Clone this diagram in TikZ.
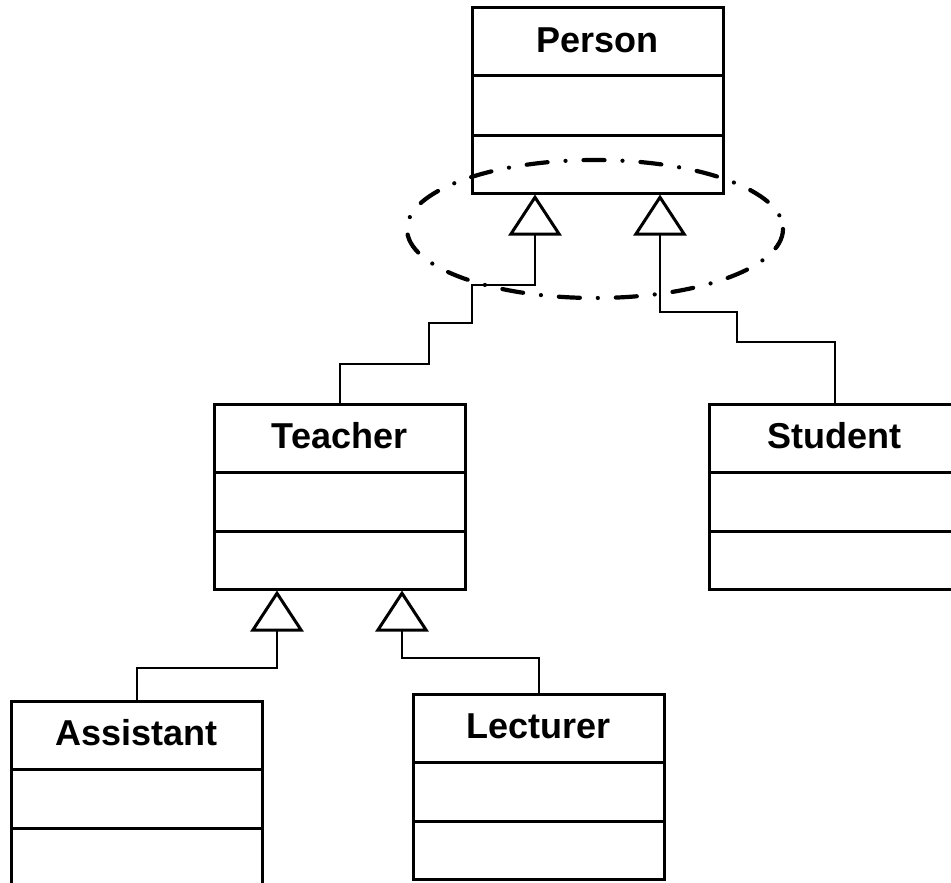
\documentclass[tikz,border=0pt]{standalone}
\usepackage{fontspec}
\setmainfont{Liberation Sans}
\usetikzlibrary{calc,arrows.meta}
\tikzset{
  umlbox/.style={draw, line width=3pt, minimum width=251pt, minimum height=185pt, inner sep=0pt, anchor=north west},
  boxline/.style={line width=3pt},
  lbl/.style={font=\fontsize{36}{40}\selectfont\bfseries, anchor=base, inner sep=0pt},
  inh/.style={line width=2pt, -{Triangle[open, length=41pt, width=53pt, line width=3pt]}},
  setline/.style={line width=4.2pt, line cap=round, dash pattern=on 21pt off 18pt on 0pt off 18pt}
}
\newcommand{\umlclass}[4]{%
  \node[umlbox] (#1) at (#2,#3) {};
  \draw[boxline] ($(#1.north west)+(1.5,69.5)$) -- ($(#1.north east)+(-1.5,69.5)$);
  \draw[boxline] ($(#1.north west)+(1.5,128.5)$) -- ($(#1.north east)+(-1.5,128.5)$);
  \node[lbl] (#1lbl) at ($(#1.north)+(0,46)$) {#4};
}
\begin{document}
\begin{tikzpicture}[x=1pt,y=-1pt]
\clip (0,0) rectangle (951,883);
\fill[white] (0,0) rectangle (951,883);
\umlclass{person}{470.5}{6.5}{Person}
\umlclass{teacher}{212.5}{402.5}{Teacher}
\umlclass{student}{707.5}{402.5}{Student}
\umlclass{assistant}{9.5}{699.5}{Assistant}
\umlclass{lecturer}{411.5}{692.5}{Lecturer}
\coordinate (pL) at ($(person.south)+(-62.5,0)$);
\coordinate (pR) at ($(person.south)+(62.5,0)$);
\coordinate (tL) at ($(teacher.south)+(-62.5,0)$);
\coordinate (tR) at ($(teacher.south)+(62.5,0)$);
\draw[inh] (teacher.north) |- (429,364) |- (472,323) -- (472,285) -| (pL);
\draw[inh] (student.north) |- (737,342) -- (737,312) -| (pR);
\draw[inh] (assistant.north) -- ++(0,-32) -| (tL);
\draw[inh] (lecturer.north) -- ++(0,-35) -| (tR);
\draw[setline] (595,229) ellipse [x radius=188, y radius=69];
\end{tikzpicture}
\end{document}
